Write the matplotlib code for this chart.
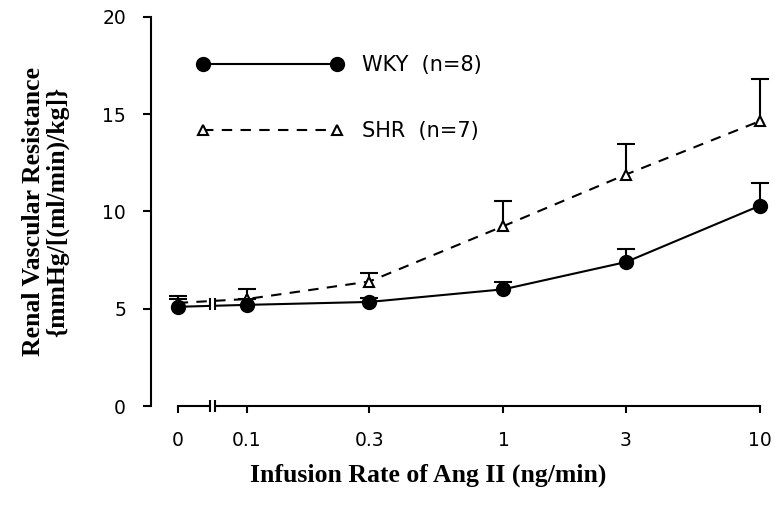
import numpy as np
import matplotlib
matplotlib.use("Agg")
import matplotlib.pyplot as plt
from matplotlib.patches import Rectangle

# ---- data ----
doses = [0, 0.1, 0.3, 1, 3, 10]
dose_labels = ["0", "0.1", "0.3", "1", "3", "10"]
wky_mean = [5.1, 5.2, 5.35, 6.0, 7.4, 10.3]
wky_sem = [0.4, 0.3, 0.2, 0.35, 0.65, 1.15]
shr_mean = [5.3, 5.5, 6.4, 9.25, 11.9, 14.65]
shr_sem = [0.35, 0.5, 0.45, 1.3, 1.55, 2.15]
y_ticks = [0, 5, 10, 15, 20]

# position on axis: log10 for doses > 0, zero placed left of a break
ZERO_POS = -1.27
BREAK_POS = (-1.145, -1.125)
def pos(d):
    return ZERO_POS if d == 0 else np.log10(d)
xpos = np.array([pos(d) for d in doses])

fig = plt.figure(figsize=(7.75, 5.12), dpi=100)
ax = fig.add_axes([151/775, 106/512, 609/775, 389/512])
ax.set_xlim(-1.374, 1.0)
ax.set_ylim(0, 20)

lw = 1.5

def upper_errors(means, sems, z):
    tops = np.array(means) + np.array(sems)
    ax.vlines(xpos, means, tops, color='black', lw=lw, zorder=z, clip_on=False)
    ax.plot(xpos, tops, linestyle='none', marker='_', markersize=13,
            markeredgewidth=lw, color='black', zorder=z, clip_on=False)

# WKY
upper_errors(wky_mean, wky_sem, 3)
ax.plot(xpos, wky_mean, '-', color='black', lw=lw, marker='o', markersize=10,
        markerfacecolor='black', markeredgecolor='black', clip_on=False, zorder=5,
        label="WKY  (n=8)")
# SHR
upper_errors(shr_mean, shr_sem, 3)
ax.plot(xpos, shr_mean, color='black', lw=lw, linestyle=(0, (5, 4)), marker='^',
        markersize=7, markerfacecolor='white', markeredgecolor='black',
        markeredgewidth=1.5, clip_on=False, zorder=4, label="SHR  (n=7)")

# break on data line
ax.add_patch(Rectangle((BREAK_POS[0], 4.6), BREAK_POS[1]-BREAK_POS[0], 1.2,
                       facecolor='white', edgecolor='none', zorder=6))
ax.vlines(BREAK_POS, 4.95, 5.55, color='black', lw=lw, zorder=7)

# axes styling
for s in ['top', 'right']:
    ax.spines[s].set_visible(False)
ax.spines['left'].set_linewidth(lw)
ax.spines['bottom'].set_linewidth(lw)
ax.spines['bottom'].set_bounds(ZERO_POS, 1.0)
ax.spines['left'].set_bounds(0, 20)

# x axis break
ax.add_patch(Rectangle((BREAK_POS[0], -0.3), BREAK_POS[1]-BREAK_POS[0], 0.6,
                       facecolor='white', edgecolor='none', zorder=6, clip_on=False))
ax.vlines(BREAK_POS, -0.3, 0.3, color='black', lw=lw, zorder=7, clip_on=False)

tick_font = dict(family='DejaVu Sans', size=13.5)
ax.set_xticks(xpos)
ax.set_xticklabels(dose_labels, fontdict=tick_font)
ax.set_yticks(y_ticks)
ax.set_yticklabels([str(v) for v in y_ticks], fontdict=tick_font)
ax.tick_params(axis='x', direction='out', length=5, width=lw, pad=13)
ax.tick_params(axis='y', direction='out', length=6, width=lw, pad=12)

label_font = dict(family='Liberation Serif', size=18.5, weight='bold')
ax.set_xlabel("Infusion Rate of Ang II (ng/min)", fontdict=label_font)
ax.xaxis.set_label_coords((428 - 151) / 609, -(475 - 406) / 389)
ax.xaxis.label.set_verticalalignment('center')
ax.set_ylabel("Renal Vascular Resistance\n{mmHg/[(ml/min)/kg]}", fontdict=label_font,
              labelpad=24, linespacing=1.05)

leg = ax.legend(loc='upper left', bbox_to_anchor=(197/775, 1 - 55/512),
                bbox_transform=fig.transFigure, frameon=False, numpoints=2,
                handlelength=7.0, handletextpad=0.9, labelspacing=2.2,
                borderpad=0, borderaxespad=0,
                prop=dict(family='DejaVu Sans', size=15))

fig.savefig("out.png", dpi=100)
